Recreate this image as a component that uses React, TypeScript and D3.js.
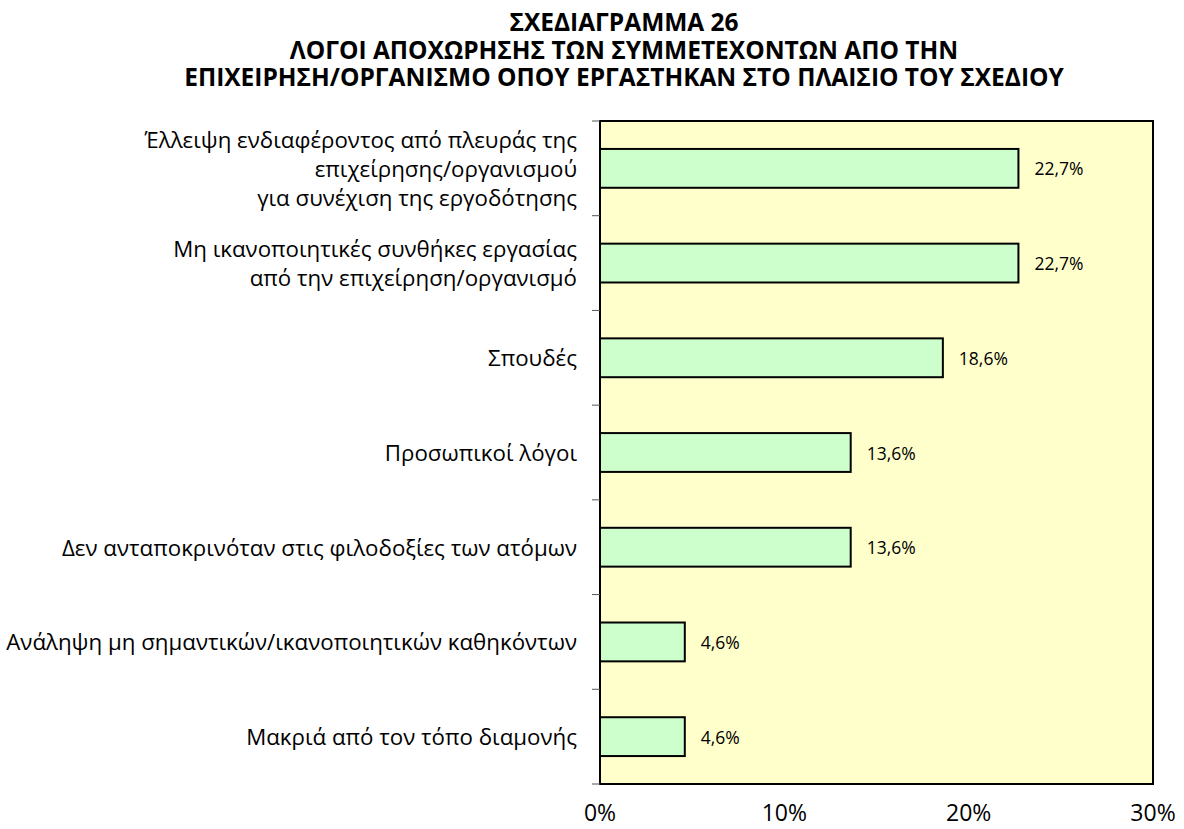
import React from "react";
import * as d3 from "d3";

const titleLines = [
  "ΣΧΕΔΙΑΓΡΑΜΜΑ 26",
  "ΛΟΓΟΙ ΑΠΟΧΩΡΗΣΗΣ ΤΩΝ ΣΥΜΜΕΤΕΧΟΝΤΩΝ ΑΠΟ ΤΗΝ",
  "ΕΠΙΧΕΙΡΗΣΗ/ΟΡΓΑΝΙΣΜΟ ΟΠΟΥ ΕΡΓΑΣΤΗΚΑΝ ΣΤΟ ΠΛΑΙΣΙΟ ΤΟΥ ΣΧΕΔΙΟΥ",
];

const categories: string[][] = [
  ["Έλλειψη ενδιαφέροντος από πλευράς της", "επιχείρησης/οργανισμού", "για συνέχιση της εργοδότησης"],
  ["Μη ικανοποιητικές συνθήκες εργασίας", "από την επιχείρηση/οργανισμό"],
  ["Σπουδές"],
  ["Προσωπικοί λόγοι"],
  ["Δεν ανταποκρινόταν στις φιλοδοξίες των ατόμων"],
  ["Ανάληψη μη σημαντικών/ικανοποιητικών καθηκόντων"],
  ["Μακριά από τον τόπο διαμονής"],
];

const values = [22.7, 22.7, 18.6, 13.6, 13.6, 4.6, 4.6];
const xTicks = [0, 10, 20, 30];

const W = 1184;
const H = 829;
const left = 600;
const right = 1153;
const top = 121;
const bottom = 784;
const FONT = "'Open Sans', sans-serif";

export default function App() {
  const x = d3.scaleLinear().domain([0, 30]).range([left, right]);
  const idx = categories.map((_, i) => String(i));
  const y = d3.scaleBand().domain(idx).range([top, bottom]).paddingInner(0.59).paddingOuter(0.295);
  const step = (bottom - top) / categories.length;
  const fmt = (v: number) => v.toFixed(1).replace(".", ",") + "%";
  const lineH = 29;

  return (
    <svg width={W} height={H} style={{ display: "block", position: "absolute", left: 0, top: 0 }}>
      <rect x={0} y={0} width={W} height={H} fill="#fff" />
      {titleLines.map((t, i) => (
        <text key={i} x={624} y={31 + i * 27.7} textAnchor="middle" fontFamily={FONT} fontWeight="bold" fontSize={24.5} fill="#000">
          {t}
        </text>
      ))}
      <rect x={left} y={top} width={right - left} height={bottom - top} fill="#FFFFCC" stroke="#000" strokeWidth={2} />
      {d3.range(categories.length + 1).map((i) => (
        <line key={i} x1={left - 8} x2={left} y1={top + i * step} y2={top + i * step} stroke="#555" strokeWidth={1} />
      ))}
      {values.map((v, i) => (
        <g key={i}>
          <rect x={x(0)} y={y(String(i))!} width={x(v) - x(0)} height={y.bandwidth()} fill="#CCFFCC" stroke="#000" strokeWidth={2} />
          <text x={x(v) + 16} y={y(String(i))! + y.bandwidth() / 2} dominantBaseline="central" fontFamily={FONT} fontSize={17.5} fill="#000">
            {fmt(v)}
          </text>
        </g>
      ))}
      {categories.map((lines, i) => {
        const cy = y(String(i))! + y.bandwidth() / 2;
        const start = cy - ((lines.length - 1) * lineH) / 2;
        return lines.map((l, j) => (
          <text key={i + "-" + j} x={577} y={start + j * lineH} textAnchor="end" dominantBaseline="central" fontFamily={FONT} fontSize={22.3} fill="#000">
            {l}
          </text>
        ));
      })}
      {xTicks.map((t) => (
        <text key={t} x={x(t)} y={821} textAnchor="middle" fontFamily={FONT} fontSize={23} fill="#000">
          {t + "%"}
        </text>
      ))}
    </svg>
  );
}
